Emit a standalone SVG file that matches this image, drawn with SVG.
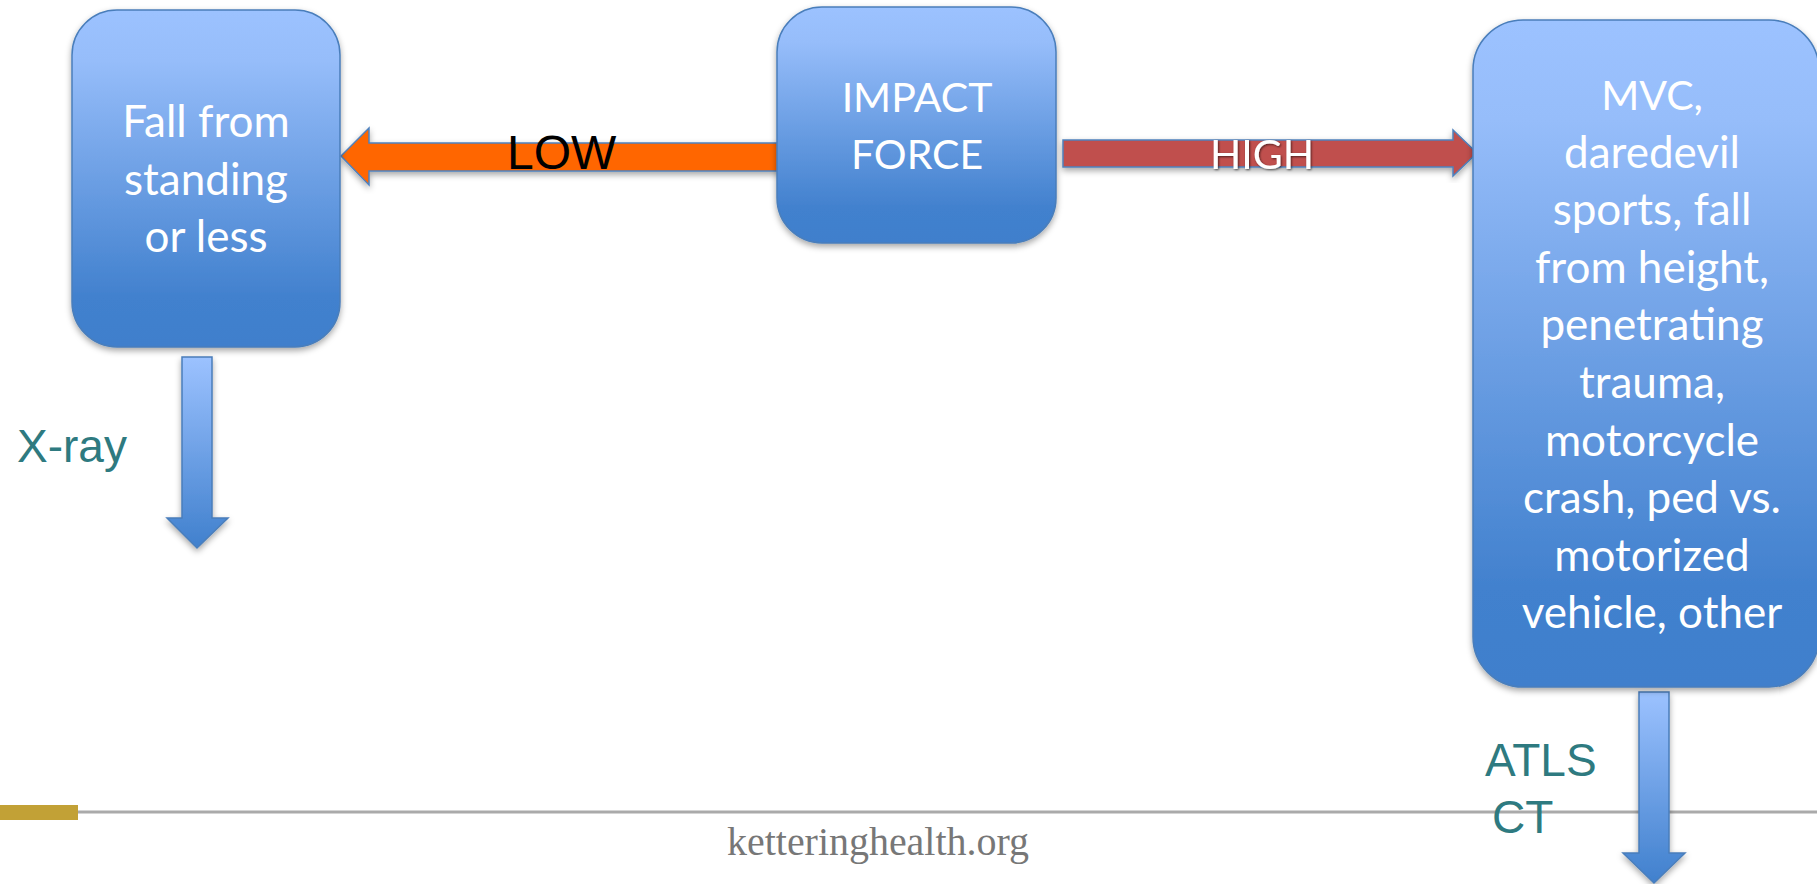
<svg xmlns="http://www.w3.org/2000/svg" width="1817" height="884" viewBox="0 0 1817 884">
  <defs>
    <linearGradient id="boxGrad" x1="0" y1="0" x2="0" y2="1">
      <stop offset="0" stop-color="#9cc2ff"/>
      <stop offset="0.15" stop-color="#96bdfa"/>
      <stop offset="0.85" stop-color="#4281ce"/>
      <stop offset="1" stop-color="#3f7fcc"/>
    </linearGradient>
    <linearGradient id="arrowGrad" x1="0" y1="0" x2="0" y2="1">
      <stop offset="0" stop-color="#9cc2ff"/>
      <stop offset="1" stop-color="#4080cd"/>
    </linearGradient>
    <filter id="shadow" x="-10%" y="-10%" width="120%" height="125%">
      <feDropShadow dx="0" dy="3" stdDeviation="3" flood-color="#000" flood-opacity="0.35"/>
    </filter>
    <filter id="txtShadow" x="-10%" y="-20%" width="120%" height="140%">
      <feDropShadow dx="1" dy="1" stdDeviation="1" flood-color="#000" flood-opacity="0.6"/>
    </filter>
  </defs>
  <style>
    .box { fill: url(#boxGrad); stroke: #4a7ebb; stroke-width: 1.5; filter: url(#shadow); }
    .boxtxt { font-family: Lato, "Open Sans", sans-serif; font-size: 44px; fill: #ffffff; text-anchor: middle; }
    .caps { font-size: 41px; }
    .downarrow { fill: url(#arrowGrad); stroke: #4a7ebb; stroke-width: 1.5; filter: url(#shadow); }
    .label { font-family: "Liberation Sans", Arial, sans-serif; font-size: 46px; fill: #2e7a80; }
  </style>

  <rect width="1817" height="884" fill="#ffffff"/>

  <g id="footer">
    <line x1="78" y1="812" x2="1817" y2="812" stroke="#aaaaaa" stroke-width="3"/>
    <rect x="0" y="805" width="78" height="15" fill="#c2a136"/>
    <text x="727" y="855" font-family="Liberation Serif, serif" font-size="39" fill="#777777" textLength="302" lengthAdjust="spacingAndGlyphs">ketteringhealth.org</text>
  </g>

  <g id="connectors">
    <g id="arrow-low">
      <polygon points="341,156 369,128 369,143 782,143 782,171 369,171 369,185" fill="#ff6600" stroke="#4f81bd" stroke-width="1.5" filter="url(#shadow)"/>
      <text x="507" y="169" font-family="Liberation Sans, Arial, sans-serif" font-size="48" fill="#000000">LOW</text>
    </g>
    <g id="arrow-high">
      <polygon points="1063,140 1453,140 1453,130 1477,153 1453,176 1453,167 1063,167" fill="#c0504d" stroke="#4f81bd" stroke-width="1.5" filter="url(#shadow)"/>
      <text x="1262" y="169" class="boxtxt caps" filter="url(#txtShadow)">HIGH</text>
    </g>
    <g id="arrow-xray">
      <polygon class="downarrow" points="182,357 212,357 212,518 228,518 197,548 167,518 182,518"/>
      <text x="17" y="462" class="label">X-ray</text>
    </g>
    <g id="arrow-ct">
      <polygon class="downarrow" points="1639,692 1669,692 1669,853 1685,853 1654,883 1623,853 1639,853"/>
      <text x="1485" y="776" class="label">ATLS</text>
      <text x="1492" y="833" class="label">CT</text>
    </g>
  </g>

  <g id="node-low">
    <rect class="box" x="72" y="10" width="268" height="337" rx="45" ry="45"/>
    <text class="boxtxt" x="206" y="137">Fall from</text>
    <text class="boxtxt" x="206" y="194.5">standing</text>
    <text class="boxtxt" x="206" y="252">or less</text>
  </g>

  <g id="node-impact">
    <rect class="box" x="777" y="7" width="279" height="236" rx="45" ry="45"/>
    <text class="boxtxt caps" x="917" y="112">IMPACT</text>
    <text class="boxtxt caps" x="917" y="169">FORCE</text>
  </g>

  <g id="node-high">
    <rect class="box" x="1473" y="20" width="346" height="667" rx="50" ry="50"/>
    <text class="boxtxt caps" x="1652" y="110">MVC,</text>
    <text class="boxtxt" x="1652" y="167.6">daredevil</text>
    <text class="boxtxt" x="1652" y="225.2">sports, fall</text>
    <text class="boxtxt" x="1652" y="282.8">from height,</text>
    <text class="boxtxt" x="1652" y="340.4">penetrating</text>
    <text class="boxtxt" x="1652" y="398">trauma,</text>
    <text class="boxtxt" x="1652" y="455.6">motorcycle</text>
    <text class="boxtxt" x="1652" y="513.2">crash, ped vs.</text>
    <text class="boxtxt" x="1652" y="570.8">motorized</text>
    <text class="boxtxt" x="1652" y="628.4">vehicle, other</text>
  </g>
</svg>
